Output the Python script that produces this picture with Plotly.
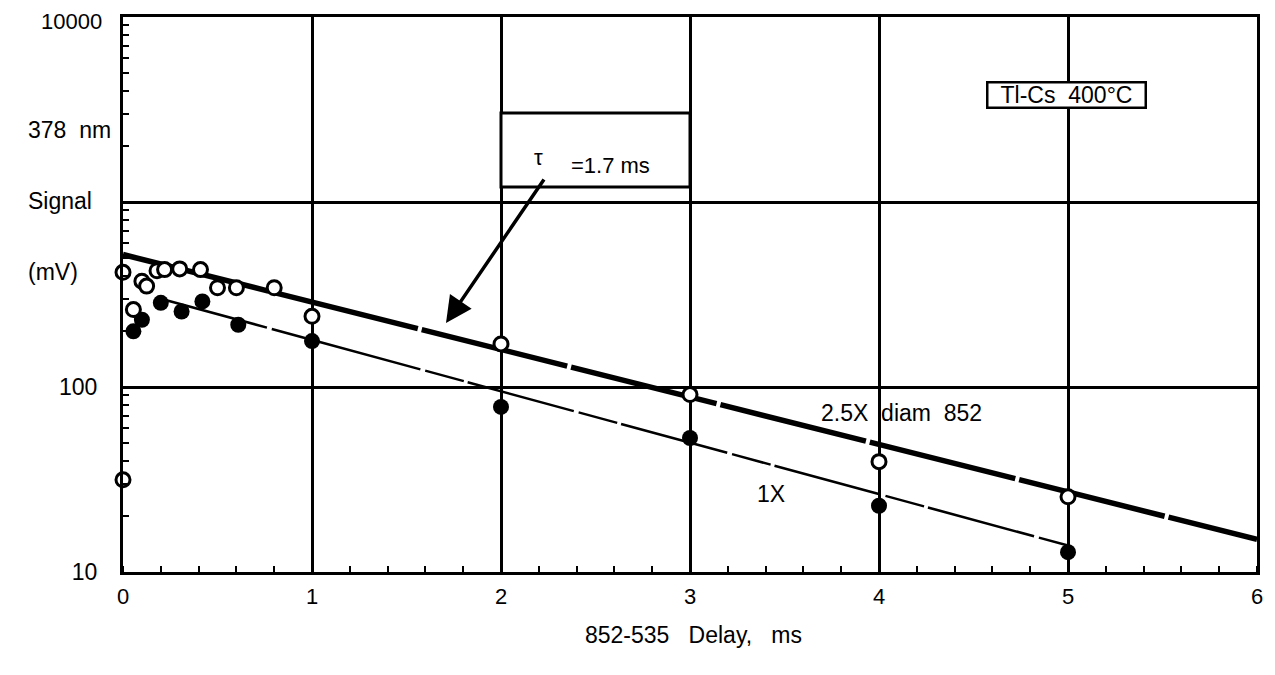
import plotly.graph_objects as go

# ---- data ----
open_x = [0, 0, 0.055, 0.1, 0.125, 0.18, 0.22, 0.3, 0.41, 0.5, 0.6, 0.8, 1, 2, 3, 4, 5]
open_y = [31.5, 417, 262, 373, 351, 425, 431, 435, 431, 344, 344, 344, 241, 171, 91, 39.5, 25.5]

filled_x = [0.055, 0.1, 0.2, 0.31, 0.42, 0.61, 1.0, 2, 3, 4, 5]
filled_y = [200, 231, 285, 256, 290, 217, 177, 78, 53, 22.8, 12.8]

fit_thick_x = [0, 6]
fit_thick_y = [520, 15]
fit_thin_x = [0.2, 5]
fit_thin_y = [300, 13.9]

x_ticks = [0, 1, 2, 3, 4, 5, 6]
y_ticks = [10, 100, 1000, 10000]
y_ticktext = ["10", "100", "", ""]   # "10000" drawn as a text below, to keep it inside the page
y_top_label = "10000"
y_minor = [m * d for d in (10, 100, 1000) for m in range(2, 10)]

FONT = "Liberation Sans, Arial, Helvetica, sans-serif"
# target plot-area edges in page pixels
L, R, T, B = 123, 1257, 17, 572
BODY = 8  # default page body margin
W, H = 1275 - 2 * BODY, 675 - 2 * BODY


def px(xp):
    return (xp - L) / (R - L)


def py(yp):
    return (B - yp) / (B - T)


fig = go.Figure()

fig.add_trace(go.Scatter(x=fit_thick_x, y=fit_thick_y, mode="lines",
                         line=dict(color="black", width=5.5, dash="150px,4px"),
                         hoverinfo="skip", showlegend=False))
fig.add_trace(go.Scatter(x=fit_thin_x, y=fit_thin_y, mode="lines",
                         line=dict(color="black", width=2.5, dash="110px,5px,40px,4px"),
                         hoverinfo="skip", showlegend=False))
fig.add_trace(go.Scatter(x=filled_x, y=filled_y, mode="markers",
                         marker=dict(symbol="circle", size=16, color="black",
                                     line=dict(color="black", width=0)),
                         cliponaxis=False, showlegend=False, name="1X"))
fig.add_trace(go.Scatter(x=open_x, y=open_y, mode="markers",
                         marker=dict(symbol="circle", size=14, color="white",
                                     line=dict(color="black", width=3)),
                         cliponaxis=False, showlegend=False, name="2.5X diam 852"))

# tau box
fig.add_shape(type="rect", xref="x", yref="paper", x0=2, x1=3,
              y0=py(187), y1=py(113), line=dict(color="black", width=3),
              fillcolor="white", layer="above")


def txt(text, x, y, size=23, **kw):
    d = dict(x=px(x), y=py(y), xref="paper", yref="paper", text=text,
             showarrow=False, xanchor="center", yanchor="middle",
             font=dict(size=size, family=FONT, color="black"))
    d.update(kw)
    return d


ann = [
    txt("τ", 538, 157, size=22),
    txt("=1.7 ms", 610, 165, size=22),
    txt("Tl-Cs  400°C", 1066, 95, size=23, bgcolor="white", bordercolor="black",
        borderwidth=2.5, borderpad=0, width=156, height=23),
    dict(x=px(446), y=py(323), xref="paper", yref="paper", text="",
         showarrow=True, ax=99, ay=-145, arrowhead=2, arrowsize=1.5,
         arrowwidth=3.5, arrowcolor="black", standoff=0),
    txt("2.5X  diam  852", 901, 413, size=23),
    txt("1X", 771, 494, size=23),
    txt(y_top_label, 104, 21, size=22, xanchor="right"),
    txt("378  nm", 26, 130, xanchor="left"),
    txt("Signal", 26, 201, xanchor="left"),
    txt("(mV)", 26, 272, xanchor="left"),
    txt("852-535   Delay,   ms", 693, 635, size=23),
]

fig.update_layout(
    width=W, height=H,
    margin=dict(l=L - BODY, r=(BODY + W) - R, t=T - BODY, b=(BODY + H) - B, pad=0),
    plot_bgcolor="white", paper_bgcolor="white",
    font=dict(family=FONT, size=22, color="black"),
    annotations=ann,
    xaxis=dict(range=[0, 6], tickvals=x_ticks, ticktext=[str(v) for v in x_ticks],
               showgrid=True, gridcolor="black", gridwidth=2.5, automargin=False,
               showline=True, linecolor="black", linewidth=3, mirror=True,
               ticks="", ticklabelstandoff=3, zeroline=False,
               ticklabeloverflow="allow",
               tickfont=dict(size=22, family=FONT),
               minor=dict(dtick=0.2, tick0=0, ticks="inside", ticklen=6,
                          tickwidth=2, tickcolor="black", showgrid=False)),
    yaxis=dict(type="log", range=[1, 4], tickvals=y_ticks, ticktext=y_ticktext,
               showgrid=True, gridcolor="black", gridwidth=2.5, automargin=False,
               showline=True, linecolor="black", linewidth=3, mirror=True,
               ticks="", ticklabelstandoff=18, zeroline=False,
               ticklabeloverflow="allow",
               tickfont=dict(size=23, family=FONT),
               minor=dict(tickmode="array", tickvals=y_minor, ticks="inside",
                          ticklen=6, tickwidth=2, tickcolor="black", showgrid=False)),
)

fig.write_html("out.html")
